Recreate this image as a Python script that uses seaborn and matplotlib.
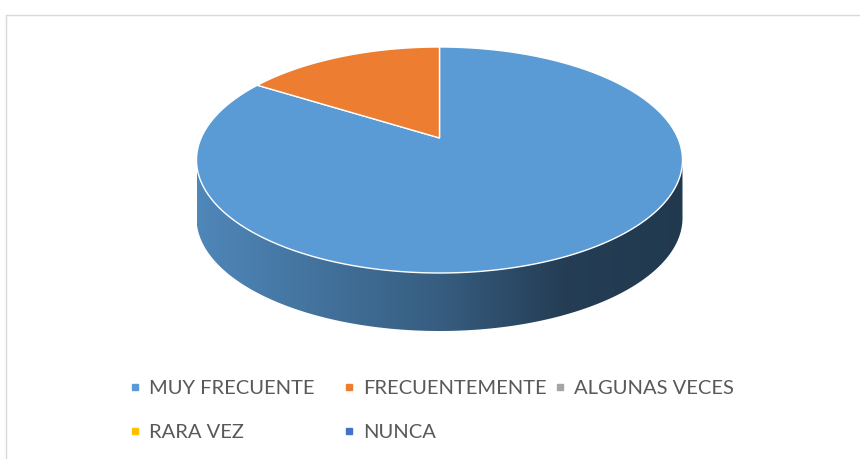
import numpy as np
import pandas as pd
import matplotlib.pyplot as plt
import seaborn as sns
from matplotlib.lines import Line2D
from matplotlib.patches import Polygon

# Data
categories = ["MUY FRECUENTE", "FRECUENTEMENTE", "ALGUNAS VECES", "RARA VEZ", "NUNCA"]
values = [84, 16, 0, 0, 0]
colors = ["#5B9BD5", "#ED7D31", "#A5A5A5", "#FFC000", "#4472C4"]

df = pd.DataFrame({"categoria": categories, "valor": values})

sns.set_theme(style="white")
plt.rcParams["font.family"] = ["Lato", "DejaVu Sans"]
palette = sns.color_palette(colors)

W, H = 860, 459
fig = plt.figure(figsize=(W / 100, H / 100), dpi=100)
fig.patch.set_facecolor("white")

# pie geometry in pixels (ellipse + thickness)
cx, cy, rx, ry, depth = 439.5, 160, 243, 113, 58
d = depth / ry
ax = fig.add_axes([(cx - rx) / W, 1 - (cy + ry + depth) / H, 2 * rx / W, (2 * ry + depth) / H])

# pie angles come from ax.pie, then drawn with a perspective tilt like Excel's 3D pie
wedges, _ = ax.pie(df["valor"], colors=palette, startangle=90, counterclock=False, radius=1, frame=True)
ax.set_aspect("auto")

c = 0.195                      # perspective: centre appears above the middle
alpha = np.sqrt(1 - c ** 2)


def proj(u, v):
    den = 1 + c * v
    return np.c_[alpha * u / den, (v + c) / den]


front_lo = 180 + np.degrees(np.arcsin(c))
front_hi = 360 - np.degrees(np.arcsin(c))
xs = np.linspace(-1, 1, 300)
shade = np.interp(xs, [-1, 0, 0.5, 1], [0.87, 0.6, 0.4, 0.37])

for w, col in zip(wedges, palette):
    w.set_visible(False)
    a, b = w.theta1, w.theta2
    if b - a <= 0:
        continue
    # front side of this slice, shaded from left to right
    for k in (-1, 0, 1):
        lo, hi = max(a, front_lo + 360 * k), min(b, front_hi + 360 * k)
        if hi <= lo:
            continue
        t = np.radians(np.linspace(lo, hi, 200))
        rim = proj(np.cos(t), np.sin(t))
        pts = np.concatenate([rim, rim[::-1] - [0, d]])
        poly = Polygon(pts, closed=True, facecolor="none", edgecolor="none")
        ax.add_patch(poly)
        img = np.array(col)[None, None, :] * shade[None, :, None]
        im = ax.imshow(img, extent=(-1, 1, -1 - d, 0), aspect="auto", zorder=1, interpolation="bilinear")
        im.set_clip_path(poly)
    # top face of the slice
    t = np.radians(np.linspace(a, b, 300))
    top = np.concatenate([proj(np.array([0.0]), np.array([0.0])), proj(np.cos(t), np.sin(t))])
    ax.add_patch(Polygon(top, closed=True, facecolor=col, edgecolor="white", lw=1.0, zorder=3))

ax.set_xlim(-1, 1)
ax.set_ylim(-1 - d, 1)
ax.axis("off")

# legend, three columns laid out in rows like the original
fs = 14.5
fs_px = fs * 100 / 72
hl = 0.6
order = [[0, 3], [1, 4], [2]]
col_x = [134.5, 348.5, 559.5]
for idx, mx in zip(order, col_x):
    handles = [Line2D([], [], marker="s", ls="", ms=4.2, color=palette[i]) for i in idx]
    fig.legend(handles, [categories[i] for i in idx], loc="upper left",
               bbox_to_anchor=((mx - hl * fs_px / 2) / W, 1 - 380 / H),
               frameon=False, borderpad=0, borderaxespad=0, handlelength=hl,
               handletextpad=(14.5 - hl * fs_px / 2) / fs_px, labelspacing=1.35,
               fontsize=fs, labelcolor="#595959")

# chart area border (only top and left visible)
fig.add_artist(Line2D([5.5 / W, 5.5 / W], [0, 1 - 14.5 / H], color="#d9d9d9", lw=1, transform=fig.transFigure))
fig.add_artist(Line2D([5.5 / W, 1], [1 - 14.5 / H, 1 - 14.5 / H], color="#d9d9d9", lw=1, transform=fig.transFigure))

fig.savefig("out.png", dpi=100)
